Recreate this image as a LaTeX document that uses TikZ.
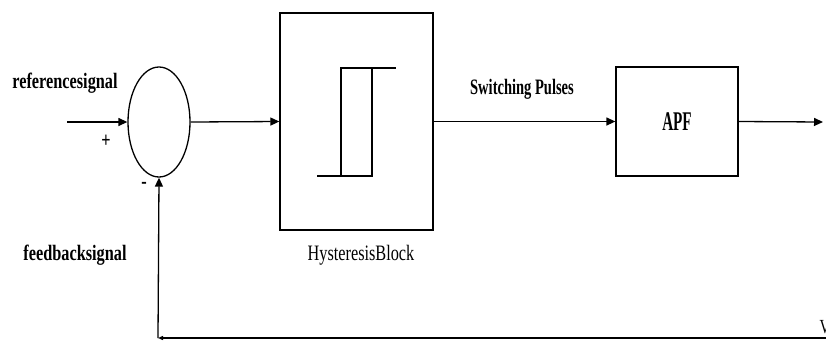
\documentclass[tikz,border=0pt]{standalone}
\usepackage{fontspec}
\setmainfont{Liberation Serif}
\newfontfamily\narrowfont{Liberation Serif}[FakeStretch=0.74]
\newfontfamily\apffont{Liberation Serif}[FakeStretch=0.56]
\newfontfamily\swfont{Liberation Serif}[FakeStretch=0.66]
\usetikzlibrary{arrows.meta,shapes.geometric}

\begin{document}
\begin{tikzpicture}[x=1pt, y=-1pt, line width=1.3pt,
  >={Triangle[length=9pt,width=8pt]},
  block/.style={draw, rectangle, line width=1.3pt, inner sep=0pt},
  sumnode/.style={draw, ellipse, line width=1.3pt, inner sep=0pt, minimum width=62pt, minimum height=110pt},
  lbl/.style={inner sep=0pt, font=\narrowfont\fontsize{22}{24}\selectfont\bfseries}]
			\useasboundingbox (0,0) rectangle (826,341);

			\node[sumnode] (sum) at (159,122) {};
			\node[block, minimum width=153pt, minimum height=217pt] (hyst) at (356.5,121.5) {};
			\node[block, minimum width=122pt, minimum height=109pt, font=\apffont\fontsize{27}{30}\selectfont\bfseries] (apf) at (677,121.5) {APF};

			\coordinate (in) at (67,122);
			\coordinate (out) at (823,122);
			\coordinate (fbR) at (826,338);
			\coordinate (fbL) at (158,338);

			% labels
			\node[lbl] (reflbl) at (65,83) {referencesignal};
			\node[lbl] (plus) at (106,141) {+};
			\node[lbl] (minus) at (144,185) {-};
			\node[lbl] (fblbl) at (75,255) {feedbacksignal};
			\node[lbl, font=\swfont\fontsize{22}{24}\selectfont\bfseries] (swlbl) at (522,89) {Switching Pulses};
			\node[lbl, font=\narrowfont\fontsize{22}{24}\selectfont] (hystlbl) at (361,255) {HysteresisBlock};
			\node[lbl, font=\narrowfont\fontsize{20}{22}\selectfont, anchor=west] (vlbl) at (819,327) {V};

			% hysteresis loop
			\draw[line width=1.1pt] (317,176) -- (372,176) -- (372,68);
			\draw[line width=1.1pt] (341,176) -- (341,68) -- (396,68);

			\draw[->] (in) -- (sum.west);
			\draw[->] (sum.east) -- (hyst.west);
			\draw[->] (hyst.east) -- (apf.west);
			\draw[->] (apf.east) -- (out);
			\draw[-{Triangle[length=5pt,width=4pt]}] (fbR) -- (fbL);
			\draw[->] (fbL) -- (sum.south);
		\end{tikzpicture}
\end{document}
